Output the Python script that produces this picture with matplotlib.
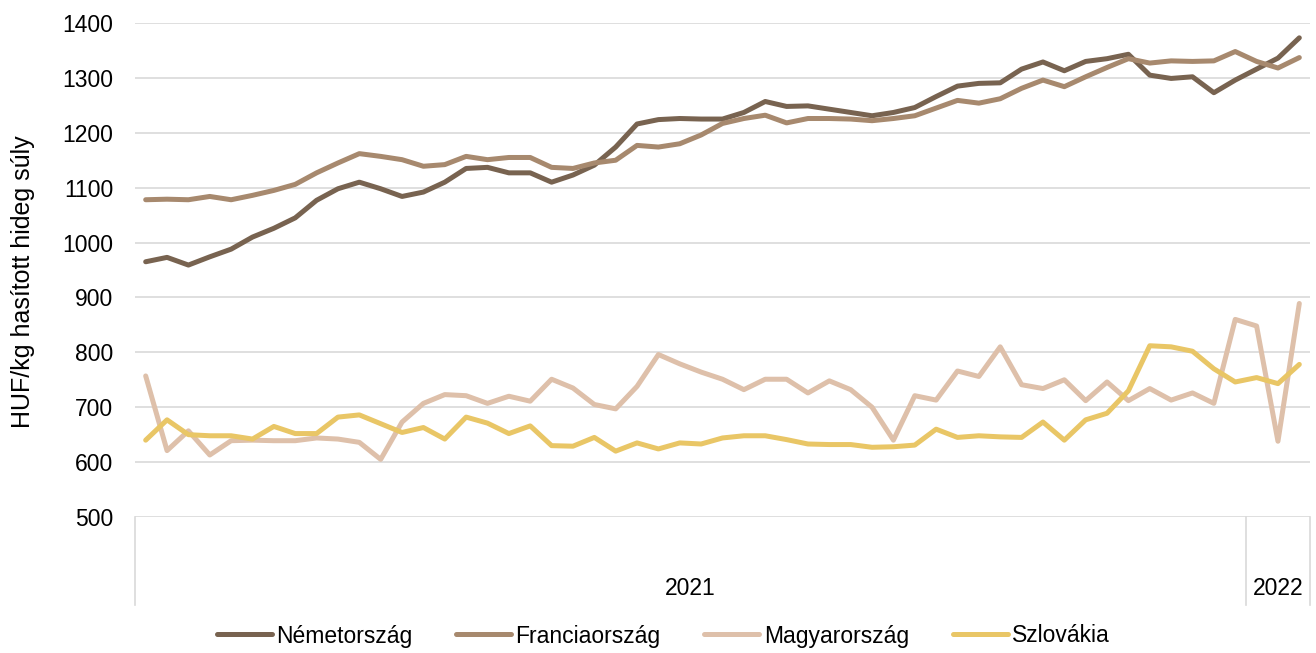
import numpy as np
import matplotlib
matplotlib.use("Agg")
import matplotlib.pyplot as plt
import matplotlib.transforms as mtransforms

plt.rcParams['font.family'] = ['Liberation Sans', 'DejaVu Sans']

# heti árak, 2021 (52 hét) + 2022 (3 hét)
years = ['2021', '2022']
weeks_per_year = [52, 3]

nemetorszag = [965, 973, 959, 974, 988, 1010, 1026, 1045, 1077, 1098,
               1110, 1098, 1084, 1092, 1110, 1135, 1137, 1127, 1127, 1110,
               1123, 1141, 1174, 1216, 1224, 1226, 1225, 1225, 1237, 1257,
               1248, 1249, 1243, 1237, 1231, 1237, 1246, 1266, 1285, 1290,
               1291, 1316, 1329, 1313, 1330, 1335, 1343, 1305, 1299, 1302,
               1273, 1296, 1316, 1336, 1373]
franciaorszag = [1078, 1079, 1078, 1084, 1078, 1086, 1095, 1106, 1127, 1145,
                 1162, 1157, 1151, 1139, 1142, 1157, 1151, 1155, 1155, 1137,
                 1135, 1145, 1150, 1177, 1174, 1180, 1196, 1217, 1226, 1232,
                 1218, 1226, 1226, 1225, 1222, 1226, 1231, 1245, 1259, 1254,
                 1262, 1281, 1296, 1284, 1302, 1319, 1335, 1327, 1331, 1330,
                 1331, 1348, 1330, 1318, 1337]
magyarorszag = [757, 621, 657, 613, 639, 640, 639, 639, 644, 642,
                636, 605, 673, 707, 723, 721, 707, 720, 711, 751,
                735, 705, 697, 738, 796, 779, 764, 751, 732, 751,
                751, 726, 748, 732, 700, 640, 721, 713, 766, 756,
                810, 741, 734, 750, 712, 746, 712, 734, 713, 726,
                707, 860, 848, 638, 889]
szlovakia = [640, 677, 650, 648, 648, 642, 665, 652, 652, 682,
             686, 670, 654, 663, 642, 682, 671, 652, 666, 630,
             629, 645, 620, 635, 624, 635, 633, 644, 648, 648,
             641, 633, 632, 632, 627, 628, 631, 660, 645, 648,
             646, 645, 673, 640, 677, 689, 730, 812, 810, 802,
             770, 746, 754, 743, 778]

series = [
    ('Németország', nemetorszag, '#786350'),
    ('Franciaország', franciaorszag, '#a7896e'),
    ('Magyarország', magyarorszag, '#dec0aa'),
    ('Szlovákia', szlovakia, '#e9c666'),
]

fig = plt.figure(figsize=(13.16, 6.53), dpi=100)
ax = fig.add_axes([135 / 1316, 1 - 517 / 653, 1175 / 1316, 494 / 653])

x = np.arange(len(nemetorszag))
for name, vals, color in series:
    ax.plot(x, vals, color=color, linewidth=3.6, label=name,
            solid_capstyle='round', solid_joinstyle='round')

ax.set_xlim(-0.5, len(x) - 0.5)
ax.set_ylim(500, 1400)
ax.set_yticks(range(500, 1401, 100))
ax.tick_params(axis='y', length=0, labelsize=16.5, pad=15.5)
ax.set_xticks([])
ax.grid(axis='y', color='#d9d9d9', linewidth=1.2)
ax.set_axisbelow(True)
for s in ax.spines.values():
    s.set_visible(False)

ax.set_ylabel('HUF/kg hasított hideg súly', fontsize=18)
ax.yaxis.set_label_coords(-0.085, 0.477)

# kategória tengely: évek elválasztói
trans = mtransforms.blended_transform_factory(ax.transData, ax.transAxes)
bounds = np.concatenate([[0], np.cumsum(weeks_per_year)]) - 0.5
for b in bounds:
    ax.plot([b, b], [0, -0.178], transform=trans, color='#d9d9d9',
            linewidth=1.2, clip_on=False)
for i, yr in enumerate(years):
    ax.text((bounds[i] + bounds[i + 1]) / 2, -0.144, yr, transform=trans,
            ha='center', va='center', fontsize=16.5)

fig.legend(loc='center', bbox_to_anchor=(0.504, 17 / 653), ncol=4, frameon=False,
           fontsize=16.5, handlelength=2.4, handletextpad=0.2, columnspacing=1.9)

fig.savefig('out.png', dpi=100)
